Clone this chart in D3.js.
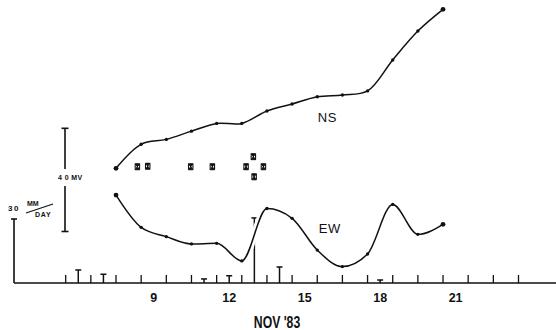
<!DOCTYPE html>
<html>
<head>
<meta charset="utf-8">
<script src="https://cdn.jsdelivr.net/npm/d3@7"></script>
<style>
  body { margin: 0; background: #fff; }
  svg { display: block; }
  text { font-family: 'Liberation Sans', Arial, sans-serif; fill: #111; }
</style>
</head>
<body>
<div id="graph"></div>
<script>
// daily readings, Nov 1983 (mV, arbitrary zero)
var days  = [8, 9, 10, 11, 12, 13, 14, 15, 16, 17, 18, 19, 20, 21]
var nsMv  = [24.5, 33.8, 35.7, 38.9, 41.9, 41.9, 46.7, 49.4, 52.2, 52.9, 54.5, 66.5, 77.7, 86.1]
var ewMv  = [14.1, 1.6, -2.0, -4.8, -4.6, -11.4, 8.9, 5.1, -7.2, -13.6, -8.7, 10.5, -1.1, 2.8]

// scattered symbols between the curves
var markDays = [8.85, 9.26, 10.97, 11.83, 13.17, 13.46, 13.49, 13.86]
var markMv   = [25.1, 25.3, 25.1, 25.1, 25.1, 29.0, 21.2, 25.1]

// rainfall, mm/day
var rainDays = [6.5, 7.5, 11.5, 12.5, 13.5, 14.5, 18.5]
var rainMm   = [6.1, 4.1, 1.9, 3.4, 30.5, 7.5, 1.4]

var dayTicks  = [6, 7, 8, 9, 10, 11, 12, 13, 14, 15, 16, 17, 18, 19, 20, 21, 22, 23, 24]
var dayLabels = [9, 12, 15, 18, 21]

var width = 556, height = 330

var svg = d3.select('#graph').append('svg')
  .attr('width', width).attr('height', height)

svg.append('rect').attr('width', width).attr('height', height).attr('fill', '#fff')

var x = d3.scaleLinear().domain([6, 24]).range([65.7, 518.5])
var y = d3.scaleLinear().domain([0, 40]).range([231.5, 128.3])
var yRain = d3.scaleLinear().domain([0, 30]).range([283, 219])

var ink = '#111'

// baseline + rain axis
svg.append('line')
  .attr('x1', 14).attr('x2', width).attr('y1', yRain(0)).attr('y2', yRain(0))
  .attr('stroke', ink).attr('stroke-width', 1.6)

svg.append('line')
  .attr('x1', 14).attr('x2', 14).attr('y1', yRain(0)).attr('y2', yRain(30))
  .attr('stroke', ink).attr('stroke-width', 1.6)
svg.append('line')
  .attr('x1', 11).attr('x2', 17).attr('y1', yRain(30)).attr('y2', yRain(30))
  .attr('stroke', ink).attr('stroke-width', 1.6)

var rl = svg.append('g').attr('transform', 'translate(8,' + (yRain(30) - 11) + ')')
rl.append('text').text('30').attr('y', 2.5)
  .style('font-size', '8px').style('font-weight', 'bold').style('letter-spacing', '1.5px')
rl.append('text').text('MM').attr('x', 19).attr('y', -2)
  .style('font-size', '7px').style('font-weight', 'bold')
rl.append('text').text('DAY').attr('x', 27).attr('y', 9)
  .style('font-size', '7px').style('font-weight', 'bold').style('letter-spacing', '0.8px')
rl.append('line').attr('x1', 18).attr('y1', 5).attr('x2', 45).attr('y2', -4)
  .attr('stroke', ink).attr('stroke-width', 1.2)

// day ticks
svg.selectAll('line.tick').data(dayTicks).enter().append('line')
  .attr('class', 'tick')
  .attr('x1', d => x(d)).attr('x2', d => x(d))
  .attr('y1', yRain(0)).attr('y2', yRain(0) - 8)
  .attr('stroke', ink).attr('stroke-width', 1.3)

svg.selectAll('text.day').data(dayLabels).enter().append('text')
  .attr('class', 'day')
  .attr('x', d => x(d + 0.5)).attr('y', yRain(0) + 19)
  .attr('text-anchor', 'middle')
  .style('font-size', '12.5px').style('font-weight', 'bold')
  .text(d => d)

svg.append('text')
  .attr('transform', 'translate(' + x(14.4) + ',' + (yRain(0) + 45) + ') scale(0.72,1)')
  .attr('text-anchor', 'middle')
  .style('font-size', '17px').style('font-weight', 'bold')
  .text("NOV  '83")

// rain bars
var rain = rainDays.map((d, i) => ({day: d, mm: rainMm[i]}))
var rainG = svg.selectAll('g.rain').data(rain).enter().append('g').attr('class', 'rain')
rainG.append('line')
  .attr('x1', d => x(d.day)).attr('x2', d => x(d.day))
  .attr('y1', yRain(0)).attr('y2', d => yRain(d.mm))
  .attr('stroke', ink).attr('stroke-width', 1.5)
rainG.append('line')
  .attr('x1', d => x(d.day) - 3).attr('x2', d => x(d.day) + 3)
  .attr('y1', d => yRain(d.mm)).attr('y2', d => yRain(d.mm))
  .attr('stroke', ink).attr('stroke-width', 1.5)

// 40 mV scale bar
var barX = 65
svg.append('line').attr('x1', barX).attr('x2', barX).attr('y1', y(40)).attr('y2', y(20) - 11)
  .attr('stroke', ink).attr('stroke-width', 1.6)
svg.append('line').attr('x1', barX).attr('x2', barX).attr('y1', y(20) + 6).attr('y2', y(0))
  .attr('stroke', ink).attr('stroke-width', 1.6)
svg.selectAll('line.cap').data([0, 40]).enter().append('line')
  .attr('class', 'cap')
  .attr('x1', barX - 3.5).attr('x2', barX + 3.5)
  .attr('y1', d => y(d)).attr('y2', d => y(d))
  .attr('stroke', ink).attr('stroke-width', 1.6)
svg.append('text').attr('x', barX - 7).attr('y', y(20))
  .style('font-size', '7px').style('font-weight', 'bold').style('letter-spacing', '0.4px')
  .text('4 0  MV')

// curves
var series = [
  {name: 'NS', pts: days.map((d, i) => ({day: d, mv: nsMv[i]})), lx: 16.02, lmv: 42.5,
   curve: d3.curveCatmullRom.alpha(0.5)},
  {name: 'EW', pts: days.map((d, i) => ({day: d, mv: ewMv[i]})), lx: 16.06, lmv: -0.6,
   curve: d3.curveMonotoneX}
]

series.forEach(s => {
  s.line = d3.line().x(d => x(d.day)).y(d => y(d.mv)).curve(s.curve)
  svg.append('path').datum(s.pts).attr('d', s.line)
    .attr('fill', 'none').attr('stroke', '#fff').attr('stroke-width', 7)
})
series.forEach(s => {
  svg.append('path').datum(s.pts).attr('d', s.line)
    .attr('fill', 'none').attr('stroke', ink).attr('stroke-width', 1.5)

  svg.selectAll(null).data(s.pts).enter().append('circle')
    .attr('cx', d => x(d.day)).attr('cy', d => y(d.mv))
    .attr('r', (d, i) => i == 0 || i == s.pts.length - 1 ? 2.4 : 1.7)
    .attr('fill', ink)

  svg.append('text').attr('x', x(s.lx)).attr('y', y(s.lmv))
    .style('font-size', '13px').style('letter-spacing', '0.5px')
    .text(s.name)
})

// bow-tie markers
var marks = markDays.map((d, i) => ({day: d, mv: markMv[i]}))
var mk = svg.selectAll('g.mark').data(marks).enter().append('g')
  .attr('class', 'mark')
  .attr('transform', d => 'translate(' + x(d.day) + ',' + y(d.mv) + ')')
mk.append('path')
  .attr('d', 'M-2.2,-3L2.2,-3L-2.2,3L2.2,3Z')
  .attr('fill', ink).attr('stroke', ink).attr('stroke-width', 1)
mk.append('path')
  .attr('d', 'M-2.2,-3V3M2.2,-3V3')
  .attr('stroke', ink).attr('stroke-width', 1.1)
</script>
</body>
</html>
